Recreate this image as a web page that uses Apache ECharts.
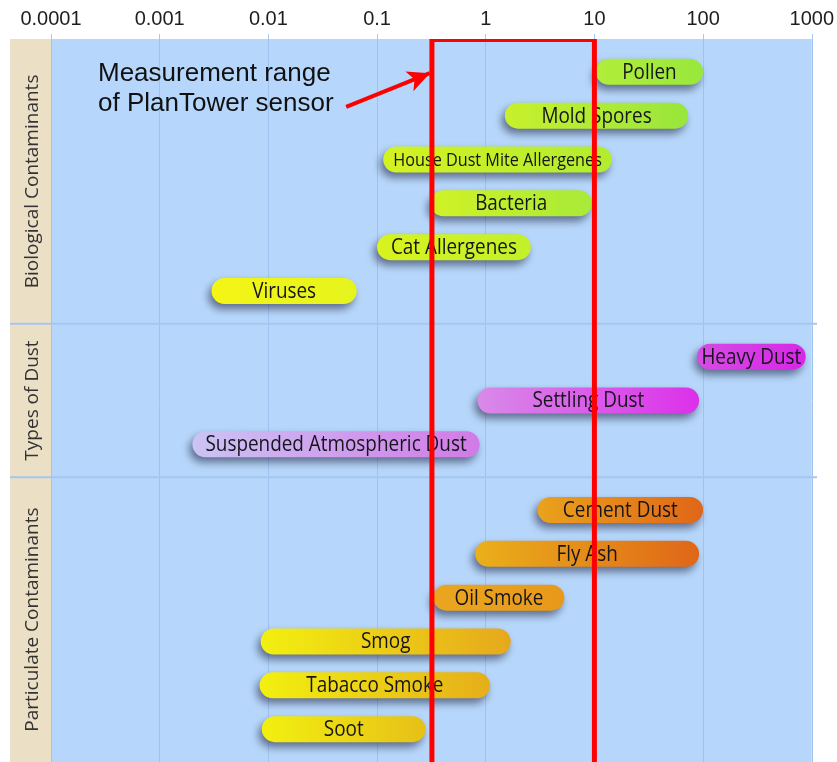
<!DOCTYPE html>
<html>
<head>
<meta charset="utf-8">
<script src="https://cdn.jsdelivr.net/npm/echarts@6/dist/echarts.min.js"></script>
<style>
  html, body { margin: 0; padding: 0; background: #fff; }
  #main { width: 837px; height: 762px; }
</style>
</head>
<body>
<div id="main"></div>
<script>
// data
var groupNames = ['Biological Contaminants', 'Types of Dust', 'Particulate Contaminants'];
var particleNames = [
    'Pollen', 'Mold Spores', 'House Dust Mite Allergenes', 'Bacteria', 'Cat Allergenes', 'Viruses',
    'Heavy Dust', 'Settling Dust', 'Suspended Atmospheric Dust',
    'Cement Dust', 'Fly Ash', 'Oil Smoke', 'Smog', 'Tabacco Smoke', 'Soot'
];
var particleGroup = [0, 0, 0, 0, 0, 0, 1, 1, 1, 2, 2, 2, 2, 2, 2];
// size range in micrometers
var sizeLow  = [10.3, 1.5, 0.114, 0.31, 0.1, 0.003, 88, 0.84, 0.002, 3, 0.8, 0.33, 0.0085, 0.0083, 0.0087];
var sizeHigh = [100, 73, 14.5, 9.5, 2.6, 0.065, 880, 92, 0.88, 100, 92, 5.3, 1.7, 1.1, 0.28];
var sensorRange = [0.32, 10];
var arrowFrom = [0.052, 1.55];
var arrowTo = [0.306, 0.78];
var tickLabels = ['0.0001', '0.001', '0.01', '0.1', '1', '10', '100', '1000'];

// styles
var barColors = [
    ['#b2ed3a', '#98e83c'], ['#c8f02c', '#98e63c'], ['#d4f222', '#b2ec30'],
    ['#d0f226', '#a8ea38'], ['#d8f31e', '#c2f02a'], ['#f4f514', '#e6f41e'],
    ['#d44ce2', '#d826e8'], ['#d88ae8', '#dc30ea'], ['#cbc4f4', '#d27ae6'],
    ['#eaa21c', '#e06618'], ['#eab01a', '#e06618'], ['#eaa620', '#e8981a'],
    ['#f2f010', '#e6a81c'], ['#f2f010', '#e6ae1a'], ['#f2f010', '#e6c018']
];
var labelSize = [21, 21, 18, 21, 21, 21, 21, 21, 21, 21, 21, 21, 21, 21, 21];

var myChart = echarts.init(document.getElementById('main'));

var rowPos = particleNames.map(function (n, i) {
    return i + particleGroup[i] * 0.5 + 0.75;
});
var yMax = 16.5;
// group bands on the row scale
var bandStart = [0, 6.5, 10];
var bandEnd = [6.5, 10, yMax];

var barData = particleNames.map(function (n, i) {
    return [sizeLow[i], sizeHigh[i], rowPos[i], i];
});

function renderBar(params, api) {
    var i = api.value(3);
    var p0 = api.coord([api.value(0), api.value(2)]);
    var p1 = api.coord([api.value(1), api.value(2)]);
    var h = 26;
    var c = barColors[i];
    return {
        type: 'group',
        children: [
            {
                type: 'rect',
                shape: { x: p0[0], y: p0[1] - h / 2, width: p1[0] - p0[0], height: h, r: h / 2 },
                style: {
                    fill: new echarts.graphic.LinearGradient(0, 0, 1, 0, [
                        { offset: 0, color: c[0] },
                        { offset: 1, color: c[1] }
                    ]),
                    shadowBlur: 9,
                    shadowOffsetX: -3,
                    shadowOffsetY: 5,
                    shadowColor: 'rgba(20,20,50,0.55)'
                }
            },
            {
                type: 'text',
                x: (p0[0] + p1[0]) / 2,
                y: p0[1] + 1,
                scaleX: 0.9,
                style: {
                    text: particleNames[i],
                    align: 'center',
                    verticalAlign: 'middle',
                    font: labelSize[i] + 'px "Open Sans"',
                    fill: '#15151c'
                }
            }
        ]
    };
}

function renderSensor(params, api) {
    var cs = params.coordSys;
    var a = api.coord([api.value(0), 0]);
    var b = api.coord([api.value(1), 0]);
    return {
        type: 'rect',
        shape: { x: a[0], y: cs.y + 0.5, width: b[0] - a[0], height: cs.height + 20 },
        style: { fill: 'none', stroke: '#ff0000', lineWidth: 5 }
    };
}

var option = {
    animation: false,
    grid: {
        left: 51, right: 20, top: 39, height: 726,
        show: true, backgroundColor: '#b6d7fb', borderWidth: 0
    },
    xAxis: {
        type: 'log',
        logBase: 10,
        min: 0.0001,
        max: 1000,
        position: 'top',
        axisLine: { show: false },
        axisTick: { show: true, length: 5, lineStyle: { color: '#a9c9ee' } },
        axisLabel: {
            fontSize: 20,
            fontFamily: 'Liberation Sans',
            color: '#1e1e1e',
            margin: 10,
            showMinLabel: true,
            showMaxLabel: true,
            formatter: function (v) {
                return tickLabels[Math.round(Math.log10(v)) + 4];
            }
        },
        splitLine: { show: true, lineStyle: { color: '#9fc3ef', width: 1 } }
    },
    yAxis: {
        type: 'value',
        inverse: true,
        min: 0,
        max: yMax,
        show: false
    },
    series: [
        {
            type: 'custom',
            renderItem: renderBar,
            data: barData,
            encode: { x: [0, 1], y: 2 },
            clip: false,
            z: 3
        },
        {
            type: 'custom',
            renderItem: renderSensor,
            data: [sensorRange],
            encode: { x: [0, 1] },
            clip: true,
            z: 10,
            markLine: {
                silent: true,
                symbol: ['none', 'arrow'],
                symbolSize: [16, 22],
                label: { show: false },
                lineStyle: { color: '#ff0000', width: 4, type: 'solid' },
                data: [[{ coord: arrowFrom }, { coord: arrowTo }]]
            }
        }
    ]
};
myChart.setOption(option);

// left strip with group names and group separators
var gfx = [];
var topPx = myChart.convertToPixel({ gridIndex: 0 }, [0.0001, 0])[1];
gfx.push({
    type: 'rect', z: 1,
    shape: { x: 10, y: topPx, width: 41, height: 762 - topPx },
    style: { fill: '#ebe0c6' }
});
groupNames.forEach(function (g, k) {
    var y0 = myChart.convertToPixel({ gridIndex: 0 }, [1, bandStart[k]])[1];
    var y1 = myChart.convertToPixel({ gridIndex: 0 }, [1, bandEnd[k]])[1];
    gfx.push({
        type: 'text', z: 2,
        x: 33, y: (y0 + y1) / 2,
        rotation: Math.PI / 2,
        style: {
            text: g, align: 'center', verticalAlign: 'middle',
            font: '19px "Open Sans"', fill: '#333'
        }
    });
    if (k > 0) {
        gfx.push({
            type: 'line', z: 2,
            shape: { x1: 10, y1: y0, x2: 817, y2: y0 },
            style: { stroke: '#a6c6ee', lineWidth: 2 }
        });
    }
});
gfx.push({
    type: 'text', z: 20,
    left: 98, top: 59,
    style: {
        text: 'Measurement range\nof PlanTower sensor',
        font: '26px "Liberation Sans"',
        lineHeight: 30,
        fill: '#111'
    }
});
myChart.setOption({ graphic: gfx });
</script>
</body>
</html>
